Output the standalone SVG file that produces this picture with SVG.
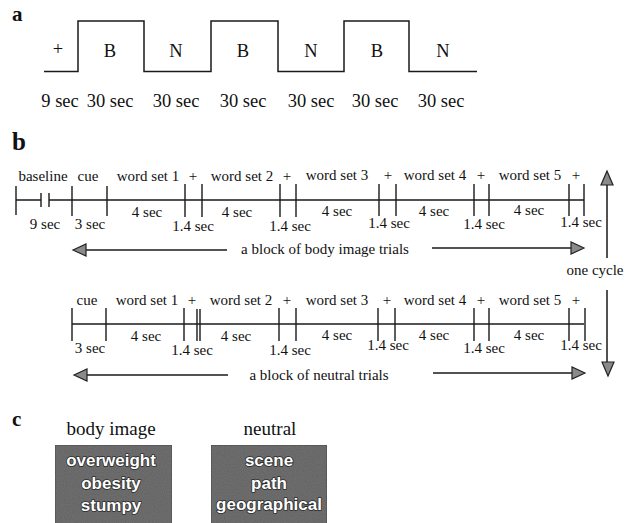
<svg xmlns="http://www.w3.org/2000/svg" width="630" height="523" viewBox="0 0 630 523">
<style>
.t{font-family:"Liberation Serif","Times New Roman",serif;fill:#111}
.a18{font-size:18.5px}
.b15{font-size:15px}
.c19{font-size:19px}
.lab{font-family:"Liberation Serif",serif;font-weight:bold;fill:#111}
.ln{stroke:#1a1a1a;stroke-width:1.5;fill:none}
.tk{stroke:#1a1a1a;stroke-width:1.4}
.ah{fill:#8a8a8a;stroke:#222;stroke-width:1.2;stroke-linejoin:miter}
.box{fill:#757575;stroke:#555;stroke-width:1}
.w{font-family:"Liberation Sans",Arial,sans-serif;font-weight:bold;font-size:17px;fill:#fff;stroke:#2a2a2a;stroke-width:1.6px;paint-order:stroke;stroke-linejoin:round}
</style>
<defs>
<filter id="grain" x="0" y="0" width="100%" height="100%">
<feTurbulence type="fractalNoise" baseFrequency="0.9" numOctaves="1" seed="3" result="n"/>
<feColorMatrix in="n" type="matrix" values="0 0 0 0 0  0 0 0 0 0  0 0 0 0 0  0 0 0 0.35 0" result="a"/>
<feComposite in="a" in2="SourceGraphic" operator="in" result="b"/>
<feMerge><feMergeNode in="SourceGraphic"/><feMergeNode in="b"/></feMerge>
</filter>
</defs>
<rect width="630" height="523" fill="#fff"/>

<!-- panel a -->
<g id="panel-a">
<text class="lab" x="12" y="21" font-size="21">a</text>
<path class="ln" d="M44,71.5 H78 V21 H144 V71.5 H211 V21 H278 V71.5 H344 V21 H409 V71.5 H477"/>
<g class="t a18" text-anchor="middle">
<text x="58" y="55">+</text>
<text x="110" y="57">B</text>
<text x="176" y="57">N</text>
<text x="243" y="57">B</text>
<text x="311" y="57">N</text>
<text x="377" y="57">B</text>
<text x="443" y="57">N</text>
<text x="60" y="107">9 sec</text>
<text x="110" y="107">30 sec</text>
<text x="176" y="107">30 sec</text>
<text x="243" y="107">30 sec</text>
<text x="311" y="107">30 sec</text>
<text x="375" y="107">30 sec</text>
<text x="441" y="107">30 sec</text>
</g>
</g>

<!-- panel b -->
<g id="panel-b">
<text class="lab" x="12" y="150" font-size="25">b</text>

<g id="timeline-body">
<path class="ln" d="M16,200 H41 M49,200 H584"/>
<path class="tk" d="M16,186 V215 M41,193 V207 M49,193 V207 M72,186 V216 M107,186 V216 M185,184 V217 M202,184 V217 M280,184 V217 M296,184 V217 M379,184 V216 M396,184 V216 M474,184 V216 M489,184 V216 M569,184 V216 M584,184 V216"/>
<g class="t b15" text-anchor="middle">
<text x="43" y="181">baseline</text>
<text x="88" y="181">cue</text>
<text x="148" y="181">word set 1</text>
<text x="193" y="181">+</text>
<text x="242" y="181">word set 2</text>
<text x="287" y="181">+</text>
<text x="337" y="180">word set 3</text>
<text x="388" y="180">+</text>
<text x="435" y="180">word set 4</text>
<text x="481" y="180">+</text>
<text x="530" y="180">word set 5</text>
<text x="576" y="180">+</text>
<text x="147" y="217">4 sec</text>
<text x="237" y="217">4 sec</text>
<text x="337" y="216">4 sec</text>
<text x="434" y="216">4 sec</text>
<text x="529" y="215">4 sec</text>
<text x="45" y="229">9 sec</text>
<text x="90" y="229">3 sec</text>
<text x="193" y="231">1.4 sec</text>
<text x="290" y="231">1.4 sec</text>
<text x="389" y="228">1.4 sec</text>
<text x="484" y="229">1.4 sec</text>
<text x="581" y="227">1.4 sec</text>
<text x="325" y="254">a block of body image trials</text>
</g>
</g>

<g id="timeline-neutral">
<path class="ln" d="M72,324 H584"/>
<path class="tk" d="M72,308 V341 M106,308 V341 M184,308 V341 M197,309 V341 M200,309 V341 M279,308 V341 M296,308 V341 M378,308 V341 M395,308 V341 M474,308 V341 M489,308 V341 M569,308 V341 M585,308 V341"/>
<g class="t b15" text-anchor="middle">
<text x="87" y="305">cue</text>
<text x="147" y="305">word set 1</text>
<text x="192" y="305">+</text>
<text x="241" y="305">word set 2</text>
<text x="287" y="305">+</text>
<text x="337" y="305">word set 3</text>
<text x="387" y="305">+</text>
<text x="435" y="305">word set 4</text>
<text x="481" y="305">+</text>
<text x="530" y="305">word set 5</text>
<text x="576" y="305">+</text>
<text x="146" y="341">4 sec</text>
<text x="236" y="341">4 sec</text>
<text x="337" y="340">4 sec</text>
<text x="434" y="340">4 sec</text>
<text x="529" y="340">4 sec</text>
<text x="90" y="353">3 sec</text>
<text x="192" y="355">1.4 sec</text>
<text x="290" y="355">1.4 sec</text>
<text x="388" y="350">1.4 sec</text>
<text x="484" y="353">1.4 sec</text>
<text x="581" y="350">1.4 sec</text>
<text x="319" y="380">a block of neutral trials</text>
</g>
</g>

<g id="connectors">
<path class="ln" d="M85,250 H227" stroke-width="1.3"/>
<path class="ah" d="M73,250 L86,244 L86,256 Z"/>
<path class="ln" d="M432,248 H572" stroke-width="1.3"/>
<path class="ah" d="M584,248 L571,242 L571,254 Z"/>
<path class="ln" d="M85,375 H228" stroke-width="1.3"/>
<path class="ah" d="M74,375 L87,369 L87,381 Z"/>
<path class="ln" d="M433,373 H573" stroke-width="1.3"/>
<path class="ah" d="M585,373 L572,367 L572,379 Z"/>
<path class="ln" d="M607,184 V258 M607,290 V362" stroke-width="1.3"/>
<path class="ah" d="M607,171 L601,185 L613,185 Z"/>
<path class="ah" d="M608,376 L602,362 L614,362 Z"/>
</g>
<text class="t b15" x="595" y="275" text-anchor="middle">one cycle</text>
</g>

<!-- panel c -->
<g id="panel-c">
<text class="lab" x="12" y="426" font-size="21">c</text>
<g class="t c19" text-anchor="middle">
<text x="111" y="435">body image</text>
<text x="270" y="435">neutral</text>
</g>
<g id="box-body">
<rect class="box" x="55" y="445" width="117" height="90" filter="url(#grain)"/>
<g text-anchor="middle">
<text class="w" x="111" y="466">overweight</text>
<text class="w" x="111" y="489">obesity</text>
<text class="w" x="111" y="511">stumpy</text>
</g>
</g>
<g id="box-neutral">
<rect class="box" x="211" y="445" width="116" height="90" filter="url(#grain)"/>
<g text-anchor="middle">
<text class="w" x="269" y="466">scene</text>
<text class="w" x="269" y="489">path</text>
<text class="w" x="269" y="510">geographical</text>
</g>
</g>
</g>
</svg>
